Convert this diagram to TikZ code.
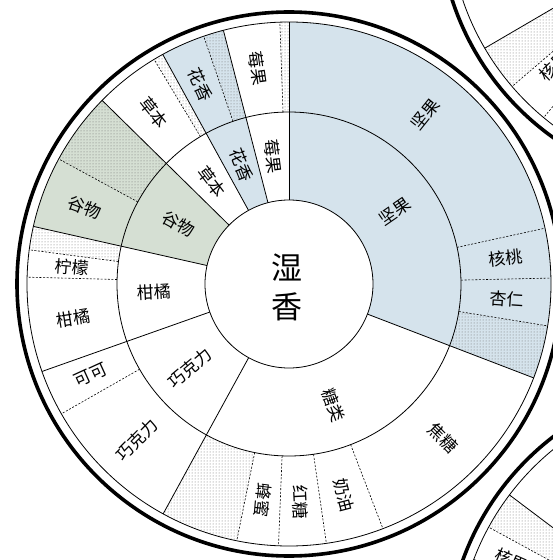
\documentclass[tikz,border=0pt]{standalone}
\usepackage{fontspec}
\setmainfont{Noto Sans CJK SC}
\usetikzlibrary{patterns}
\definecolor{nutc}{HTML}{D5E3EC}
\definecolor{grainc}{HTML}{D5DFD3}
\definecolor{dotc}{HTML}{6E6E6E}

\begin{document}
\begin{tikzpicture}[x=1pt, y=1pt,
  seam/.style={line width=0.8pt},
  split/.style={line width=0.6pt, dash pattern=on 2pt off 1.6pt},
  rim/.style={line width=3.6pt},
  nut/.style={fill=nutc},
  grain/.style={fill=grainc},
  dotblank/.style={fill=white, postaction={pattern=dots, pattern color=dotc}},
  dotnut/.style={fill=nutc, postaction={pattern=dots, pattern color=dotc}},
  dotgrain/.style={fill=grainc, postaction={pattern=dots, pattern color=dotc}},
  lbl/.style={font=\fontsize{17}{18}\selectfont, inner sep=0pt},
  heart/.style={font=\fontsize{31}{39}\selectfont, align=center, inner sep=0pt}
]
  \useasboundingbox (-289,-276) rectangle (264,284);
  \clip (-289,-276) rectangle (264,284);

  \begin{scope}[shift={(422,368)}]
    \fill[dotblank] (210.3:172) arc[start angle=210.3, end angle=220.6, radius=172]
      -- (220.6:262) arc[start angle=220.6, end angle=210.3, radius=262] -- cycle;
    \draw[seam] (210.3:172) -- (210.3:262);
    \foreach \a in {220.6, 230.3} \draw[split] (\a:172) -- (\a:262);
    \draw[seam] (0,0) circle[radius=262];
    \draw[rim] (0,0) circle[radius=272];
    \node[lbl, rotate=43.7] (tr-hg) at (223.7:217) {核果};
  \end{scope}

  \begin{scope}[shift={(429.7,-368.6)}]
    \fill[dotblank] (143:172) arc[start angle=143, end angle=151.4, radius=172]
      -- (151.4:262) arc[start angle=151.4, end angle=143, radius=262] -- cycle;
    \foreach \a in {143, 159.2} \draw[seam] (\a:172) -- (\a:262);
    \draw[split] (151.4:172) -- (151.4:262);
    \draw[seam] (0,0) circle[radius=262];
    \draw[rim] (0,0) circle[radius=272];
    \node[lbl, rotate=-23.9] (br-hg) at (156.1:227) {核果};
  \end{scope}

  \foreach \a/\b/\ri/\ro/\fc in {
      -21/90/84/172/nut, 104.5/118.8/84/172/nut, 135.5/167.3/84/172/grain,
      -9.2/90/172/262/nut, -21/-9.2/172/262/dotnut, 90/92/172/262/dotblank,
      104.5/109/172/262/dotnut, 109/118.8/172/262/nut, 118.8/121/172/262/dotblank,
      135.5/151.5/172/262/dotgrain, 151.5/167.3/172/262/grain,
      167.3/172.5/172/262/dotblank, 241.3/258.5/172/262/dotblank}
    \fill[\fc] (\a:\ri) arc[start angle=\a, end angle=\b, radius=\ri]
      -- (\b:\ro) arc[start angle=\b, end angle=\a, radius=\ro] -- cycle;

  \foreach \a in {90, 104.5, 118.8, 135.5, 167.3, 199.5, 241.3, 339}
    \draw[seam] (\a:84) -- (\a:262);
  \foreach \a in {92, 109, 121, 151.5, 172.5, 178.5, 209.7, 258.5, 267.7, 278.2, 291, 1.3, 12.3, 350.8}
    \draw[split] (\a:172) -- (\a:262);

  \draw[seam, fill=white] (0,0) circle[radius=84];
  \draw[seam] (0,0) circle[radius=172];
  \draw[seam] (0,0) circle[radius=262];
  \draw[rim] (0,0) circle[radius=272];

  \node[heart] (heart) at (-2,-3) {湿\\香};

  \foreach \a/\r/\t/\n in {34.5/128/坚果/jg-in, 290/129/糖类/tl-in, 220.25/130/巧克力/qkl-in,
      183.25/135/柑橘/gj-in, 151.4/126/谷物/gw-in, 127.15/128/草本/cb-in,
      111.65/128/花香/hx-in, 97.25/128/莓果/mg-in} {
    \pgfmathsetmacro{\rot}{\a-180*(\a>90)*(\a<250)}
    \node[lbl, rotate=\rot] (\n) at (\a:\r) {\t};
  }
  \foreach \a/\t/\n in {51.15/坚果/jg-out, 6.8/核桃/ht, 356.05/杏仁/xr,
      315/焦糖/jt, 284.6/奶油/ny, 273/红糖/hongt, 263.1/蜂蜜/fm,
      225.6/巧克力/qkl-out, 204.6/可可/kk, 189/柑橘/gj-out, 175.5/柠檬/nm,
      159.4/谷物/gw-out, 128.25/草本/cb-out, 114/花香/hx-out, 98.25/莓果/mg-out} {
    \pgfmathsetmacro{\rot}{\a-180*(\a>90)*(\a<250)}
    \node[lbl, rotate=\rot] (\n) at (\a:218) {\t};
  }
\end{tikzpicture}
\end{document}
